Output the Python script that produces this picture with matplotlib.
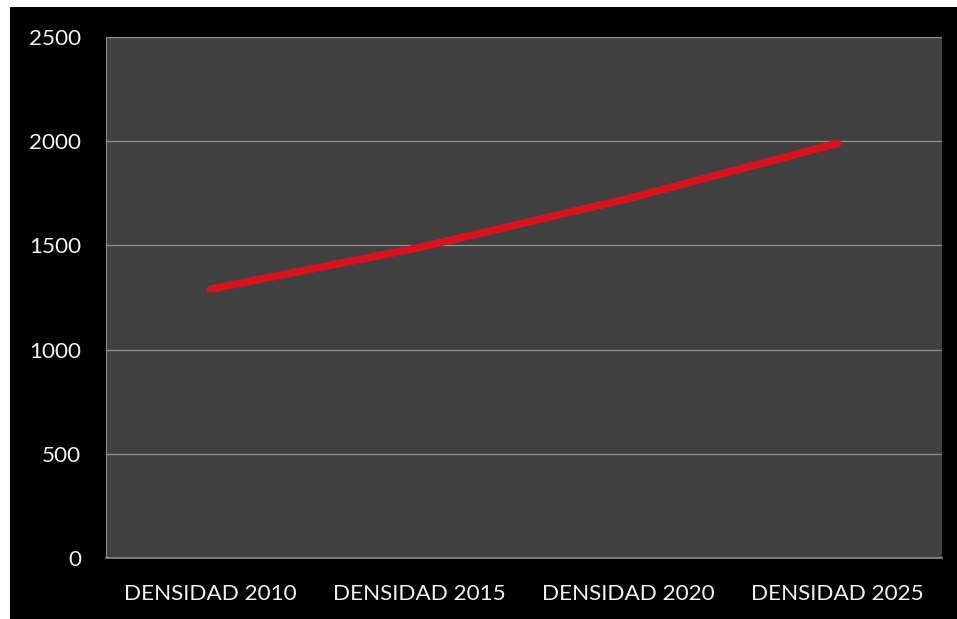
import matplotlib
matplotlib.use("Agg")
import matplotlib.pyplot as plt
from matplotlib.patches import Rectangle

categories = ["DENSIDAD 2010", "DENSIDAD 2015", "DENSIDAD 2020", "DENSIDAD 2025"]
values = [1290, 1490, 1725, 1990]
yticks = [0, 500, 1000, 1500, 2000, 2500]

plt.rcParams['font.family'] = ['Lato', 'DejaVu Sans']

W, H = 957, 619
fig = plt.figure(figsize=(W / 100, H / 100), dpi=100, facecolor='black')

# white strips along top and left edge of the picture
fig.patches.append(Rectangle((0, 1 - 7 / H), 1, 7 / H, transform=fig.transFigure,
                             facecolor='white', edgecolor='none', zorder=0))
fig.patches.append(Rectangle((0, 0), 10 / W, 1, transform=fig.transFigure,
                             facecolor='white', edgecolor='none', zorder=0))

left, right, top, bottom = 106, 942, 37, 558
ax = fig.add_axes([left / W, 1 - bottom / H, (right - left) / W, (bottom - top) / H])
ax.set_facecolor('#404040')

x = list(range(len(categories)))
ax.plot(x, values, color='#d7141e', linewidth=5.5, solid_capstyle='round',
        solid_joinstyle='round', zorder=3)

ax.set_xlim(-0.5, len(categories) - 0.5)
ax.set_ylim(0, 2500)
ax.set_yticks(yticks)
ax.set_yticklabels([str(v) for v in yticks])
ax.set_xticks(x)
ax.set_xticklabels(categories)

ax.yaxis.grid(True, color='#8c8c8c', linewidth=1)
ax.set_axisbelow(True)
ax.tick_params(axis='both', length=0, colors='#f2f2f2', labelsize=16.2)
ax.tick_params(axis='y', pad=18)
ax.tick_params(axis='x', pad=19)

for side in ['top', 'right']:
    ax.spines[side].set_visible(False)
ax.spines['left'].set_color('#8c8c8c')
ax.spines['bottom'].set_color('#8c8c8c')
ax.spines['bottom'].set_linewidth(1.2)

fig.savefig('out.png', dpi=100, facecolor=fig.get_facecolor())
